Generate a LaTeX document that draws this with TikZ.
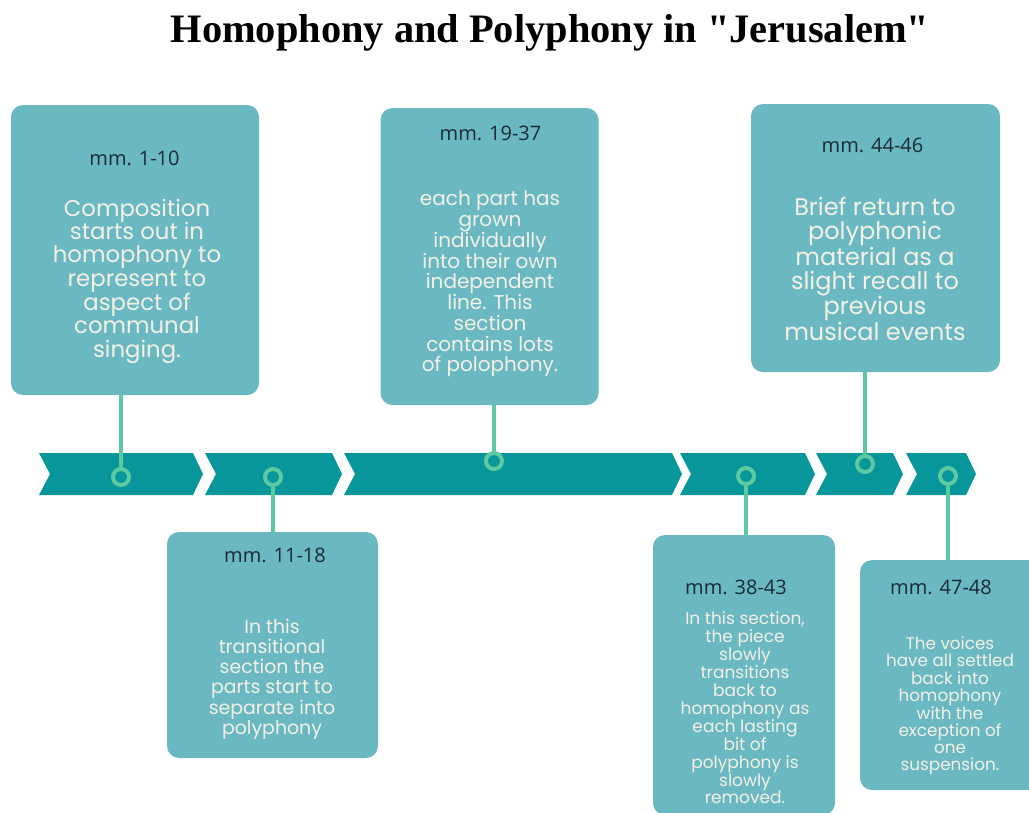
\documentclass[tikz,border=0pt]{standalone}
\usepackage{fontspec}
\setmainfont{Liberation Serif}
\newfontfamily\titlefont{Liberation Serif}
\newfontfamily\cardfont{Poppins}
\newfontfamily\mmfont{Open Sans}
\definecolor{bandteal}{HTML}{07969A}
\definecolor{cardblue}{HTML}{6AB8C2}
\definecolor{stemmint}{HTML}{5CC9A0}
\definecolor{cardtext}{HTML}{F4F1E4}
\definecolor{mmtext}{HTML}{1B2B35}

\begin{document}
\begin{tikzpicture}[x=1pt,y=-1pt]
  \tikzset{card/.style={fill=cardblue,rounded corners=12pt,inner sep=0pt},
    mm/.style={font=\mmfont\fontsize{20}{22}\selectfont,text=mmtext},
    body/.style 2 args={font=\cardfont\fontsize{#1}{#2}\selectfont,text=cardtext,align=center,inner sep=0pt},
    ring/.style={circle,draw=stemmint,line width=4pt,fill=bandteal,minimum size=16pt,inner sep=0pt},
    stem/.style={draw=stemmint,line width=4.5pt}}
  \useasboundingbox (0,0) rectangle (1029,812);
  \node[font=\titlefont\bfseries\fontsize{40.4}{44}\selectfont] (title) at (550,33) {Homophony and Polyphony in "Jerusalem"};
  % timeline band
  \foreach \xl/\xr in {39/193,205/332,344/672,680/805,816/893,906/966}
    \fill[bandteal] (\xl,453) -- (\xr,453) -- (\xr+10,474) -- (\xr,495) -- (\xl,495) -- (\xl+11,474) -- cycle;
  % cards
  \node[card,minimum width=248pt,minimum height=290pt] (box1) at (135,250) {};
  \node[card,minimum width=211pt,minimum height=226pt] (box2) at (272.5,645) {};
  \node[card,minimum width=218pt,minimum height=297pt] (box3) at (489.5,256.5) {};
  \node[card,minimum width=182pt,minimum height=280pt] (box4) at (744,675) {};
  \node[card,minimum width=249pt,minimum height=268pt] (box5) at (875.5,238) {};
  \node[card,minimum width=180pt,minimum height=230pt] (box6) at (950,675) {};
  % labels
  \node[mm] (mm1) at (134.5,158) {mm. 1-10};
  \node[mm] (mm2) at (275,555) {mm. 11-18};
  \node[mm] (mm3) at (490.5,133) {mm. 19-37};
  \node[mm] (mm4) at (736,587) {mm. 38-43};
  \node[mm] (mm5) at (872.5,145) {mm. 44-46};
  \node[mm] (mm6) at (941,587) {mm. 47-48};
  \node[body={22.8}{23.3}] (txt1) at (137,281) {Composition\\starts out in\\homophony to\\represent to\\aspect of\\communal\\singing.};
  \node[body={18.9}{20.2}] (txt2) at (272,679) {In this\\transitional\\section the\\parts start to\\separate into\\polyphony};
  \node[body={20}{20.75}] (txt3) at (490,284) {each part has\\grown\\individually\\into their own\\independent\\line. This\\section\\contains lots\\of polophony.};
  \node[body={17}{17.9}] (txt4) at (745,708) {In this section,\\the piece\\slowly\\transitions\\back to\\homophony as\\each lasting\\bit of\\polyphony is\\slowly\\removed.};
  \node[body={24}{24}] (txt5) at (875,269) {Brief return to\\polyphonic\\material as a\\slight recall to\\previous\\musical events};
  \node[body={16.8}{17.1}] (txt6) at (950,706) {The voices\\have all settled\\back into\\homophony\\with the\\exception of\\one\\suspension.};
  % markers on the band
  \node[ring] (r1) at (121,477) {};
  \node[ring] (r2) at (273,477) {};
  \node[ring] (r3) at (494,461) {};
  \node[ring] (r4) at (746,476) {};
  \node[ring] (r5) at (865,464) {};
  \node[ring] (r6) at (948,476) {};
  \path[stem] (r1) -- (box1.south -| r1);
  \path[stem] (r2) -- (box2.north -| r2);
  \path[stem] (r3) -- (box3.south -| r3);
  \path[stem] (r4) -- (box4.north -| r4);
  \path[stem] (r5) -- (box5.south -| r5);
  \path[stem] (r6) -- (box6.north -| r6);
\end{tikzpicture}
\end{document}
